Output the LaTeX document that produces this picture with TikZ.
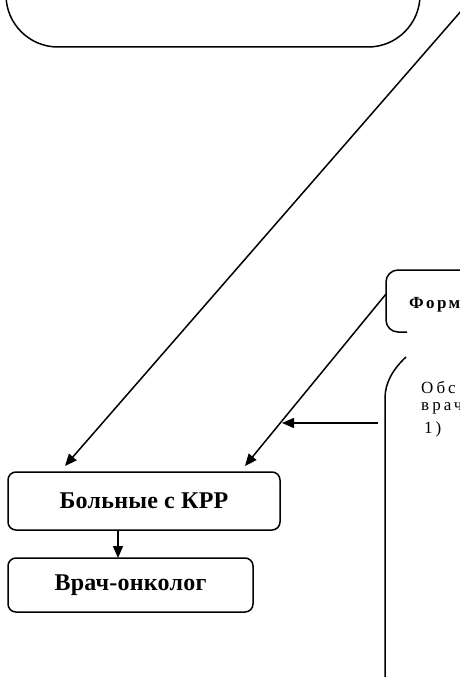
\documentclass[tikz,border=0pt]{standalone}
\usepackage{fontspec}
\setmainfont{Liberation Serif}
\newfontfamily\spacedA[LetterSpace=18]{Liberation Serif}
\newfontfamily\spacedB[LetterSpace=14]{Liberation Serif}
\newfontfamily\spacedC[LetterSpace=1]{Liberation Serif}
\usetikzlibrary{arrows.meta,calc}
\begin{document}
\begin{tikzpicture}[x=1pt,y=-1pt,
  line/.style={line width=1.5pt},
  arr/.style={line width=1.5pt,-{Triangle[length=12pt,width=10pt]}},
  box/.style={draw,line width=1.5pt,rounded corners=8pt},
  big/.style={font=\spacedC\fontsize{24}{26}\selectfont\bfseries},
  small/.style={font=\spacedA\fontsize{17}{19}\selectfont}]
\useasboundingbox (0,0) rectangle (460,677);
\clip (0,0) rectangle (460,677);
% top box (cut)
\draw[line,rounded corners=52pt] (6,-150) rectangle (420,47);
% Formy box (cut)
\draw[line,rounded corners=12pt] (480,270) -- (386,270) -- (386,332) -- (407,332);
\node[anchor=west,inner sep=0pt,font=\spacedB\fontsize{17}{19}\selectfont\bfseries] (formy) at (409,305) {Форм};
% big right box (cut)
\draw[line] (406,357) .. controls (393,369) and (385,383) .. (385,398) -- (385,690);
\node[anchor=west,inner sep=0pt,small] (obs) at (421,387) {Обс};
\node[anchor=west,inner sep=0pt,small] (vrach) at (421,408) {врач};
\node[anchor=west,inner sep=0pt,small] (one) at (424,429) {1)};
% lower boxes
\node[box,minimum width=272pt,minimum height=58pt,big] (b1) at (144,501) {Больные с КРР};
\node[box,minimum width=245pt,minimum height=54pt,big] (b2) at (130.5,585) {Врач-онколог};
% connectors
\coordinate (c1) at (462,10);
\coordinate (t1) at (65,466);
\coordinate (c2) at (386,294);
\coordinate (t2) at (245,466);
\coordinate (h1) at (378,423);
\coordinate (h2) at (282,423);
\coordinate (d1) at (118,530);
\coordinate (d2) at (118,558);
\draw[arr] (c1) -- (t1);
\draw[arr] (c2) -- (t2);
\draw[arr] (h1) -- (h2);
\draw[arr] (d1) -- (d2);
\end{tikzpicture}
\end{document}
